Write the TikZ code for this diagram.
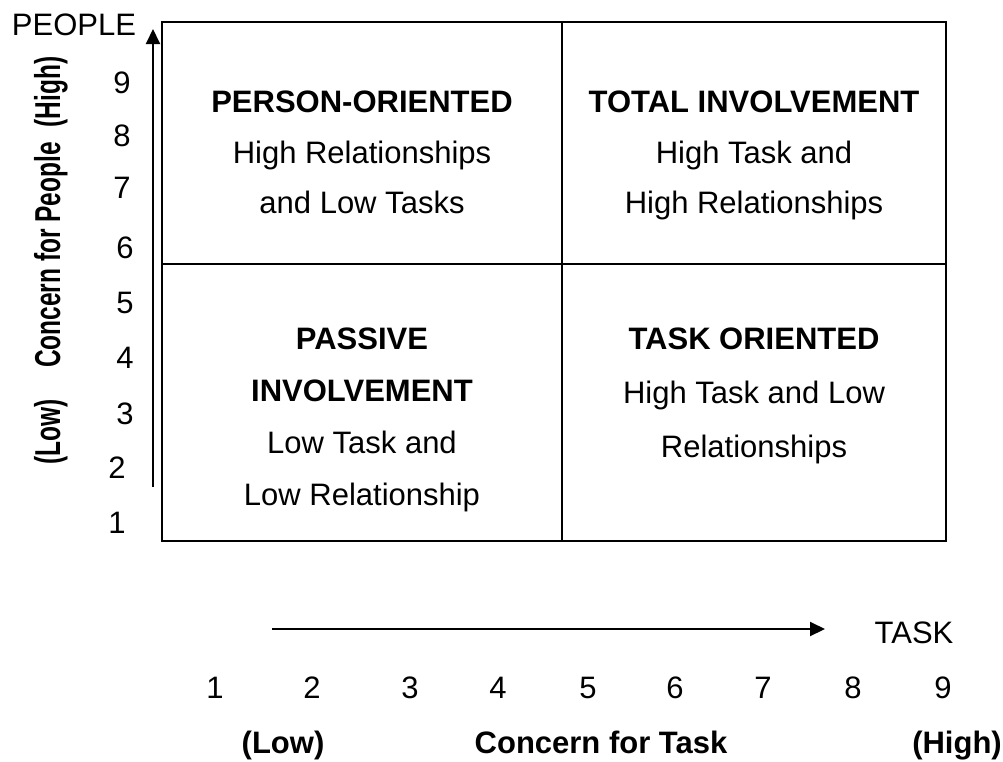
\documentclass[tikz,border=0pt]{standalone}
\usepackage{fontspec}
\setmainfont{Liberation Sans}
\usetikzlibrary{arrows.meta}
\tikzset{
  txt/.style={font=\fontsize{31}{37}\selectfont, inner sep=0pt, anchor=base},
  btxt/.style={font=\fontsize{31}{37}\selectfont\bfseries, inner sep=0pt, anchor=base},
  vlab/.style={font=\fontsize{36}{40}\selectfont\bfseries, inner sep=0pt, anchor=base, rotate=90},
  gridline/.style={line width=2.5pt},
  axis/.style={line width=2pt, -{Triangle[length=15pt,width=14pt]}}
}
\newcommand{\narrow}[1]{\scalebox{0.68}[1]{#1}}
\begin{document}
\begin{tikzpicture}[x=1pt,y=-1pt]
\useasboundingbox (0,0) rectangle (1003,761);
% grid
\coordinate (tl) at (162,22);
\coordinate (br) at (946,541);
\coordinate (mt) at (562,22);
\coordinate (mb) at (562,541);
\coordinate (ml) at (162,264);
\coordinate (mr) at (946,264);
\draw[gridline] (tl) rectangle (br);
\draw[gridline] (mt) -- (mb);
\draw[gridline] (ml) -- (mr);
% axes
\coordinate (vs) at (153,487);
\coordinate (ve) at (153,29);
\draw[axis] (vs) -- (ve);
\coordinate (hs) at (272,629);
\coordinate (he) at (825,629);
\draw[axis] (hs) -- (he);
% axis titles
\node[txt] (people) at (74,35) {PEOPLE};
\node[txt] (task) at (914,643) {TASK};
% left numbers
\node[txt] (l9) at (122,93) {9};
\node[txt] (l8) at (122,146) {8};
\node[txt] (l7) at (122,198) {7};
\node[txt] (l6) at (125,258) {6};
\node[txt] (l5) at (125,313) {5};
\node[txt] (l4) at (125,368) {4};
\node[txt] (l3) at (125,424) {3};
\node[txt] (l2) at (117,478) {2};
\node[txt] (l1) at (117,533) {1};
% bottom numbers
\node[txt] (b1) at (215,698) {1};
\node[txt] (b2) at (312,698) {2};
\node[txt] (b3) at (410,698) {3};
\node[txt] (b4) at (498,698) {4};
\node[txt] (b5) at (588,698) {5};
\node[txt] (b6) at (675,698) {6};
\node[txt] (b7) at (763,698) {7};
\node[txt] (b8) at (853,698) {8};
\node[txt] (b9) at (943,698) {9};
% bottom labels
\node[btxt] (blow) at (283,753) {(Low)};
\node[btxt] (bmid) at (601,753) {Concern for Task};
\node[btxt] (bhigh) at (957,753) {(High)};
% vertical labels
\node[vlab] (vmid) at (60,255) {\narrow{Concern for People}};
\node[vlab] (vhigh) at (60,92) {\narrow{(High)}};
\node[vlab] (vlow) at (60,432) {\narrow{(Low)}};
% quadrant texts
\node[btxt] (q1a) at (362,112) {PERSON-ORIENTED};
\node[txt]  (q1b) at (362,163) {High Relationships};
\node[txt]  (q1c) at (362,213) {and Low Tasks};
\node[btxt] (q2a) at (754,112) {TOTAL INVOLVEMENT};
\node[txt]  (q2b) at (754,163) {High Task and};
\node[txt]  (q2c) at (754,213) {High Relationships};
\node[btxt] (q3a) at (362,349) {PASSIVE};
\node[btxt] (q3b) at (362,401) {INVOLVEMENT};
\node[txt]  (q3c) at (362,453) {Low Task and};
\node[txt]  (q3d) at (362,505) {Low Relationship};
\node[btxt] (q4a) at (754,349) {TASK ORIENTED};
\node[txt]  (q4b) at (754,403) {High Task and Low};
\node[txt]  (q4c) at (754,457) {Relationships};
\end{tikzpicture}
\end{document}
